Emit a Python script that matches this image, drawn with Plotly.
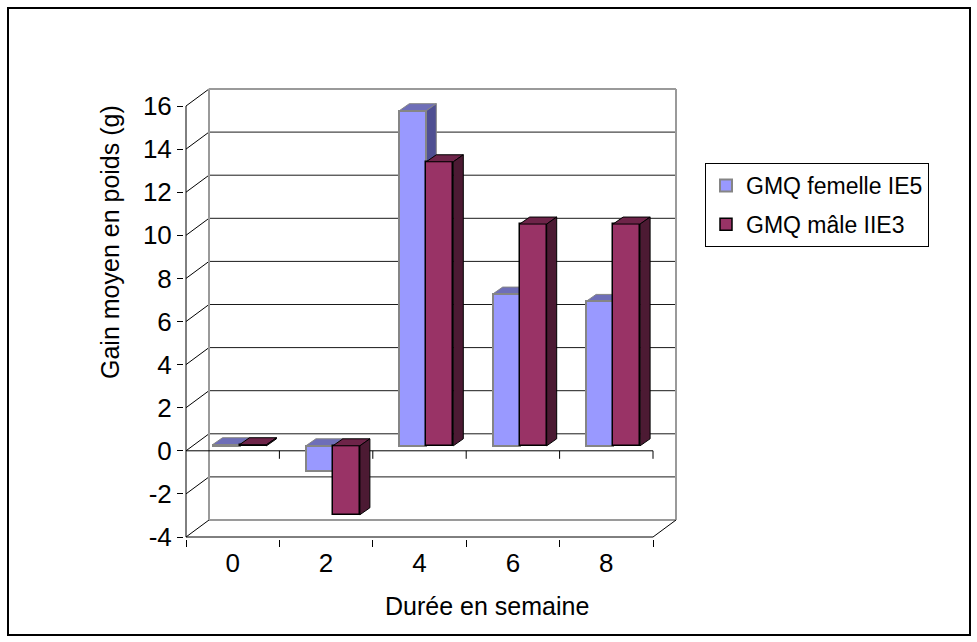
import plotly.graph_objects as go

# ---------------- data ----------------
weeks = ["0", "2", "4", "6", "8"]
femelle = [0.05, -1.16, 15.55, 7.04, 6.70]   # GMQ femelle IE5
male = [0.05, -3.20, 13.18, 10.29, 10.29]    # GMQ mâle IIE3
y_ticks = [-4, -2, 0, 2, 4, 6, 8, 10, 12, 14, 16]
y_tick_labels = ["-4", "-2", "0", "2", "4", "6", "8", "10", "12", "14", "16"]
series_names = ["GMQ femelle IE5", "GMQ mâle IIE3"]

# ---------------- geometry (pixels -> data units) ----------------
W, H = 977, 642
PX_X = 93.4      # pixels per category
PX_Y = 21.55     # pixels per value unit
WALL_DX, WALL_DY = 23 / PX_X, 17 / PX_Y     # back wall depth offset
BAR_SX, BAR_SY = 6.8 / PX_X, 5 / PX_Y       # bar front plane offset
DEP_DX, DEP_DY = 10 / PX_X, 7 / PX_Y        # bar depth
BAR_W = 27 / PX_X

L_M, T_M = 184, 88
x_lo = -0.5 - 2 / PX_X
x_hi = 4.5 + WALL_DX + 1 / PX_X
y_hi = 16 + WALL_DY + 1 / PX_Y
y_lo = -4 - 2 / PX_Y
plot_w = (x_hi - x_lo) * PX_X
plot_h = (y_hi - y_lo) * PX_Y
R_M = W - L_M - plot_w
B_M = H - T_M - plot_h

def px(xp):
    return (xp - L_M) / plot_w

def py(yp):
    return (H - B_M - yp) / plot_h

FONT = "Liberation Sans, Arial, sans-serif"
BLUE = dict(front="#9999FF", top="#6E6EB8", side="#4F4F92", edge="#858585", lw=2)
RED = dict(front="#993366", top="#6E2449", side="#4C1A33", edge="#000000", lw=1.5)

fig = go.Figure()
xpos = list(range(len(weeks)))

def faces(vals, x_left, style, z):
    for i, v in enumerate(vals):
        x0 = xpos[i] + x_left
        x1 = x0 + BAR_W
        b = BAR_SY
        top = max(b, b + v)
        bot = min(b, b + v)
        fig.add_trace(go.Scatter(
            x=[x0, x0 + DEP_DX, x1 + DEP_DX, x1, x0],
            y=[top, top + DEP_DY, top + DEP_DY, top, top],
            mode="lines", fill="toself", fillcolor=style["top"],
            line=dict(color=style["edge"], width=1), showlegend=False,
            hoverinfo="skip", zorder=z))
        fig.add_trace(go.Scatter(
            x=[x1, x1 + DEP_DX, x1 + DEP_DX, x1, x1],
            y=[bot, bot + DEP_DY, top + DEP_DY, top, bot],
            mode="lines", fill="toself", fillcolor=style["side"],
            line=dict(color=style["edge"], width=1), showlegend=False,
            hoverinfo="skip", zorder=z))

blue_left = BAR_SX - BAR_W
red_left = BAR_SX

faces(femelle, blue_left, BLUE, 0)

fig.add_trace(go.Bar(
    x=[p + blue_left + BAR_W / 2 for p in xpos], y=femelle,
    base=[BAR_SY] * len(weeks), width=BAR_W, name=series_names[0],
    marker=dict(color=BLUE["front"], line=dict(color=BLUE["edge"], width=BLUE["lw"])),
    zorder=1, legendgroup="a"))
fig.add_trace(go.Bar(
    x=[p + red_left + BAR_W / 2 for p in xpos], y=male,
    base=[BAR_SY] * len(weeks), width=BAR_W, name=series_names[1],
    marker=dict(color=RED["front"], line=dict(color=RED["edge"], width=RED["lw"])),
    zorder=1, legendgroup="b"))

faces(male, red_left, RED, 2)

# ---------------- 3D walls / axes decorations ----------------
shapes = []
def line(x0, y0, x1, y1, color="#000000", width=1):
    shapes.append(dict(type="line", xref="x", yref="y", x0=x0, y0=y0, x1=x1, y1=y1,
                       line=dict(color=color, width=width), layer="below"))

GRAY = "#9A9A9A"
for v in y_ticks:
    edge = v in (y_ticks[0], y_ticks[-1])
    line(-0.5 + WALL_DX, v + WALL_DY, 4.5 + WALL_DX, v + WALL_DY,
         GRAY if edge else "#1A1A1A", 2 if edge else 1)
    line(-0.5, v, -0.5 + WALL_DX, v + WALL_DY, "#000000", 1)
line(-0.5 + WALL_DX, y_ticks[0] + WALL_DY, -0.5 + WALL_DX, y_ticks[-1] + WALL_DY, GRAY, 2)
line(4.5 + WALL_DX, y_ticks[0] + WALL_DY, 4.5 + WALL_DX, y_ticks[-1] + WALL_DY, GRAY, 2)
line(-0.5, y_ticks[0], -0.5, y_ticks[-1], "#000000", 1)
line(-0.5, y_ticks[0], 4.5, y_ticks[0], "#000000", 1)
line(4.5, y_ticks[0], 4.5 + WALL_DX, y_ticks[0] + WALL_DY, "#000000", 1)
line(-0.5, 0, 4.5, 0, "#000000", 1)
for k in range(len(weeks)):
    line(k + 0.5, 0, k + 0.5, -8 / PX_Y, "#000000", 1)

shapes.append(dict(type="rect", xref="paper", yref="paper",
                   x0=px(8), y0=py(8), x1=px(970), y1=py(635),
                   line=dict(color="#000000", width=2), layer="above"))

fig.update_layout(
    shapes=shapes,
    width=W, height=H, autosize=False,
    margin=dict(l=L_M, r=R_M, t=T_M, b=B_M, pad=0),
    paper_bgcolor="white", plot_bgcolor="white",
    barmode="overlay", bargap=0,
    font=dict(family=FONT, size=25, color="#000000"),
    showlegend=True,
    legend=dict(x=px(705), y=py(163), xanchor="left", yanchor="top",
                bordercolor="#000000", borderwidth=1, bgcolor="white",
                font=dict(size=23, family=FONT), tracegroupgap=6,
                itemclick=False),
    xaxis=dict(range=[x_lo, x_hi], showgrid=False, zeroline=False, showline=False,
               tickmode="array", tickvals=xpos, ticktext=weeks, ticks="",
               tickfont=dict(size=26), ticklabelstandoff=6,
               minor=dict(tickmode="array", tickvals=[k - 0.5 for k in range(len(weeks) + 1)],
                          ticks="outside", ticklen=7, tickcolor="#000000", showgrid=False),
               fixedrange=True),
    yaxis=dict(range=[y_lo, y_hi], showgrid=False, zeroline=False, showline=False,
               tickmode="array", tickvals=y_ticks, ticktext=y_tick_labels,
               ticks="outside", ticklen=6,
               tickcolor="#000000", tickfont=dict(size=26), fixedrange=True),
    annotations=[
        dict(text="Gain moyen en poids (g)", xref="paper", yref="paper",
             x=px(110), y=py(242), showarrow=False, textangle=-90,
             font=dict(size=25, family=FONT), xanchor="center", yanchor="middle"),
        dict(text="Durée en semaine", xref="paper", yref="paper",
             x=px(487), y=py(606), showarrow=False,
             font=dict(size=25, family=FONT), xanchor="center", yanchor="middle"),
    ],
)

fig.write_html("out.html", config={"displayModeBar": False},
               post_script="document.body.style.margin='0';")
